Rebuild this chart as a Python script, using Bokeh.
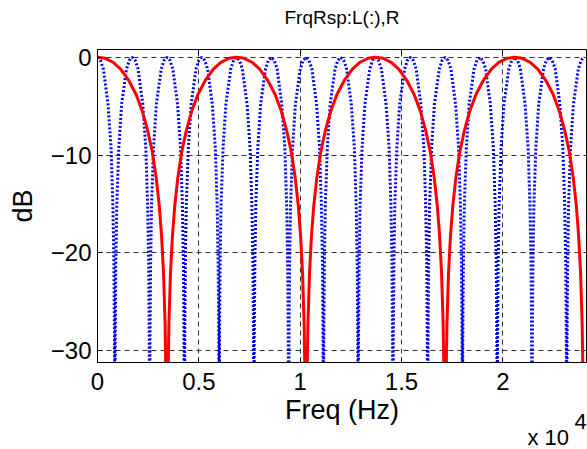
from bokeh.plotting import figure
from bokeh.models import FixedTicker, LinearAxis, Range1d, Title
from bokeh.embed import file_html
from bokeh.resources import INLINE

# ---- data (Hz, dB) ----
red_freq = [
    0, 381, 762, 1143, 1524, 1906, 2210, 2477, 2706, 2896, 3049, 3163, 3259, 3335, 3384,
    3430, 3476, 3525, 3601, 3697, 3811, 3964, 4154, 4383, 4650, 4954, 5336, 5717, 6098, 6479,
    6860, 7241, 7622, 8003, 8384, 8766, 9070, 9337, 9566, 9756, 9909, 10023, 10119, 10195, 10244,
    10290, 10336, 10385, 10461, 10557, 10671, 10824, 11014, 11243, 11510, 11814, 12196, 12577, 12958, 13339,
    13720, 14101, 14482, 14863, 15244, 15626, 15930, 16197, 16426, 16616, 16769, 16883, 16979, 17055, 17104,
    17150, 17196, 17245, 17321, 17417, 17531, 17684, 17874, 18103, 18370, 18674, 19056, 19437, 19818, 20199,
    20580, 20961, 21342, 21723, 22104, 22486, 22790, 23057, 23286, 23476, 23629, 23743, 23839, 23915, 23964,
    24000,
]
red_db = [
    0, -0.1, -0.5, -1.2, -2.3, -3.8, -5.5, -7.5, -9.7, -12.3, -15.2, -18.3, -22.1, -27.2, -33.6,
    -45, -33.6, -27.2, -22.1, -18.3, -15.2, -12.3, -9.7, -7.5, -5.5, -3.8, -2.3, -1.2, -0.5, -0.1,
    0, -0.1, -0.5, -1.2, -2.3, -3.8, -5.5, -7.5, -9.7, -12.3, -15.2, -18.3, -22.1, -27.2, -33.6,
    -45, -33.6, -27.2, -22.1, -18.3, -15.2, -12.3, -9.7, -7.5, -5.5, -3.8, -2.3, -1.2, -0.5, -0.1,
    0, -0.1, -0.5, -1.2, -2.3, -3.8, -5.5, -7.5, -9.7, -12.3, -15.2, -18.3, -22.1, -27.2, -33.6,
    -45, -33.6, -27.2, -22.1, -18.3, -15.2, -12.3, -9.7, -7.5, -5.5, -3.8, -2.3, -1.2, -0.5, -0.1,
    0, -0.1, -0.5, -1.2, -2.3, -3.8, -5.5, -7.5, -9.7, -12.3, -15.2, -18.3, -22.1, -27.2, -33.6,
    -45,
]

blue_freq = [
    0, 143, 290, 520, 670, 760, 810, 840, 858, 875, 905, 950, 1050, 1190, 1430, 1572,
    1715, 1858, 2005, 2235, 2385, 2475, 2525, 2555, 2573, 2590, 2620, 2665, 2765, 2905, 3145, 3287,
    3430, 3573, 3720, 3950, 4100, 4190, 4240, 4270, 4288, 4305, 4335, 4380, 4480, 4620, 4860, 5002,
    5145, 5288, 5435, 5665, 5815, 5905, 5955, 5985, 6003, 6020, 6050, 6095, 6195, 6335, 6575, 6717,
    6860, 7003, 7150, 7380, 7530, 7620, 7670, 7700, 7718, 7735, 7765, 7810, 7910, 8050, 8290, 8432,
    8575, 8718, 8865, 9095, 9245, 9335, 9385, 9415, 9433, 9450, 9480, 9525, 9625, 9765, 10005, 10147,
    10290, 10433, 10580, 10810, 10960, 11050, 11100, 11130, 11148, 11165, 11195, 11240, 11340, 11480, 11720, 11862,
    12005, 12148, 12295, 12525, 12675, 12765, 12815, 12845, 12863, 12880, 12910, 12955, 13055, 13195, 13435, 13577,
    13720, 13863, 14010, 14240, 14390, 14480, 14530, 14560, 14578, 14595, 14625, 14670, 14770, 14910, 15150, 15292,
    15435, 15578, 15725, 15955, 16105, 16195, 16245, 16275, 16293, 16310, 16340, 16385, 16485, 16625, 16865, 17007,
    17150, 17293, 17440, 17670, 17820, 17910, 17960, 17990, 18008, 18025, 18055, 18100, 18200, 18340, 18580, 18722,
    18865, 19008, 19155, 19385, 19535, 19625, 19675, 19705, 19723, 19740, 19770, 19815, 19915, 20055, 20295, 20437,
    20580, 20723, 20870, 21100, 21250, 21340, 21390, 21420, 21438, 21455, 21485, 21530, 21630, 21770, 22010, 22152,
    22295, 22438, 22585, 22815, 22965, 23055, 23105, 23135, 23153, 23170, 23200, 23245, 23345, 23485, 23725, 23867,
    24000,
]
blue_db = [
    0, -0.3, -1.2, -4.8, -9.3, -15.2, -21.2, -29.1, -45, -29.1, -21.2, -15.2, -9.3, -4.8, -1.2, -0.3,
    0, -0.3, -1.2, -4.8, -9.3, -15.2, -21.2, -29.1, -45, -29.1, -21.2, -15.2, -9.3, -4.8, -1.2, -0.3,
    0, -0.3, -1.2, -4.8, -9.3, -15.2, -21.2, -29.1, -45, -29.1, -21.2, -15.2, -9.3, -4.8, -1.2, -0.3,
    0, -0.3, -1.2, -4.8, -9.3, -15.2, -21.2, -29.1, -45, -29.1, -21.2, -15.2, -9.3, -4.8, -1.2, -0.3,
    0, -0.3, -1.2, -4.8, -9.3, -15.2, -21.2, -29.1, -45, -29.1, -21.2, -15.2, -9.3, -4.8, -1.2, -0.3,
    0, -0.3, -1.2, -4.8, -9.3, -15.2, -21.2, -29.1, -45, -29.1, -21.2, -15.2, -9.3, -4.8, -1.2, -0.3,
    0, -0.3, -1.2, -4.8, -9.3, -15.2, -21.2, -29.1, -45, -29.1, -21.2, -15.2, -9.3, -4.8, -1.2, -0.3,
    0, -0.3, -1.2, -4.8, -9.3, -15.2, -21.2, -29.1, -45, -29.1, -21.2, -15.2, -9.3, -4.8, -1.2, -0.3,
    0, -0.3, -1.2, -4.8, -9.3, -15.2, -21.2, -29.1, -45, -29.1, -21.2, -15.2, -9.3, -4.8, -1.2, -0.3,
    0, -0.3, -1.2, -4.8, -9.3, -15.2, -21.2, -29.1, -45, -29.1, -21.2, -15.2, -9.3, -4.8, -1.2, -0.3,
    0, -0.3, -1.2, -4.8, -9.3, -15.2, -21.2, -29.1, -45, -29.1, -21.2, -15.2, -9.3, -4.8, -1.2, -0.3,
    0, -0.3, -1.2, -4.8, -9.3, -15.2, -21.2, -29.1, -45, -29.1, -21.2, -15.2, -9.3, -4.8, -1.2, -0.3,
    0, -0.3, -1.2, -4.8, -9.3, -15.2, -21.2, -29.1, -45, -29.1, -21.2, -15.2, -9.3, -4.8, -1.2, -0.3,
    0, -0.3, -1.2, -4.8, -9.3, -15.2, -21.2, -29.1, -45, -29.1, -21.2, -15.2, -9.3, -4.8, -1.2, -0.3,
    0,
]

x_ticks = [0, 5000, 10000, 15000, 20000]
x_tick_labels = ["0", "0.5", "1", "1.5", "2"]
y_ticks = [-30, -20, -10, 0]

TITLE = "FrqRsp:L(:),R"
X_LABEL = "Freq (Hz)"
Y_LABEL = "dB"
EXP_BASE = "x 10"
EXP_POWER = "4"
FONT = "Liberation Sans"

p = figure(
    width=587, height=449, output_backend="svg", toolbar_location=None,
    x_range=Range1d(0, 24130), y_range=Range1d(-31.2, 0.8),
    min_border_left=97, min_border_right=1, min_border_top=49, min_border_bottom=87,
)

p.background_fill_color = "white"
p.border_fill_color = "white"
p.outline_line_color = "black"
p.outline_line_width = 1

for ax in (p.xaxis[0], p.yaxis[0]):
    ax.major_tick_in = 5
    ax.major_tick_out = 0
    ax.minor_tick_line_color = None
    ax.axis_line_color = "black"
    ax.major_tick_line_color = "black"
    ax.major_label_text_font = FONT
    ax.major_label_text_font_size = "24px"
    ax.major_label_text_color = "black"
    ax.axis_label_text_font = FONT
    ax.axis_label_text_font_size = "27px"
    ax.axis_label_text_font_style = "normal"
    ax.axis_label_text_color = "black"

p.xaxis.ticker = FixedTicker(ticks=x_ticks)
p.xaxis.major_label_overrides = {t: s for t, s in zip(x_ticks, x_tick_labels)}
p.xaxis.axis_label = X_LABEL
p.xaxis.major_label_standoff = 10
p.xaxis.axis_label_standoff = 2

p.yaxis.ticker = FixedTicker(ticks=y_ticks)
p.yaxis.axis_label = Y_LABEL
p.yaxis.major_label_standoff = 6
p.yaxis.axis_label_standoff = 10

# top side of the box: inward ticks, no tick labels, the chart title as its label
top = LinearAxis(ticker=FixedTicker(ticks=x_ticks), major_tick_in=5, major_tick_out=0,
                 minor_tick_line_color=None, major_label_text_font_size="1px",
                 major_label_text_color=None, major_label_standoff=0,
                 axis_line_color="black", axis_label=TITLE,
                 axis_label_text_font=FONT, axis_label_text_font_size="19px",
                 axis_label_text_font_style="normal", axis_label_text_color="black",
                 axis_label_standoff=22)
p.add_layout(top, "above")

for g, t in ((p.xgrid[0], x_ticks), (p.ygrid[0], y_ticks)):
    g.ticker = FixedTicker(ticks=t)
    g.grid_line_color = "#333333"
    g.grid_line_dash = "5 4"
    g.grid_line_width = 1

p.line(blue_freq, blue_db, line_color="#0000ff", line_width=3, line_dash="2 2")
p.line(red_freq, red_db, line_color="#ff0000", line_width=3)

# exponent of the x axis, in the panel below the axis
p.add_layout(Title(text=EXP_POWER, align="left", offset=477, standoff=-27,
                   vertical_align="top",
                   text_font=FONT, text_font_size="22px", text_font_style="normal",
                   text_color="black"), "below")
p.add_layout(Title(text=EXP_BASE, align="left", offset=430, standoff=-9,
                   text_font=FONT, text_font_size="22px", text_font_style="normal",
                   text_color="black"), "below")

open("out.html", "w").write(file_html(p, INLINE))
